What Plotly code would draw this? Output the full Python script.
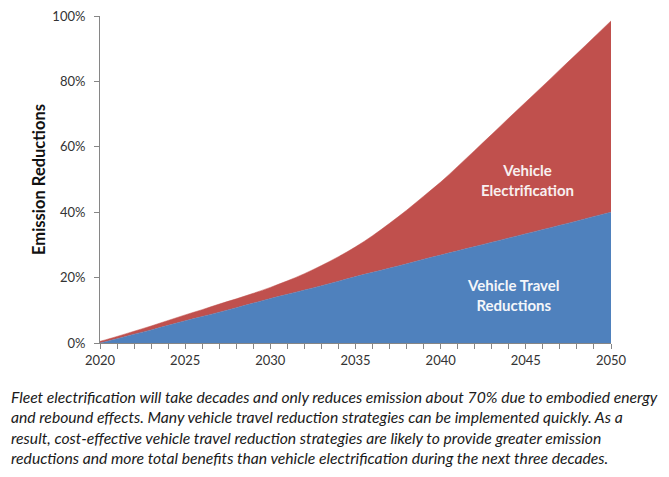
import plotly.graph_objects as go

# Years on the x axis
years = list(range(2020, 2051))

# Vehicle travel reduction share (blue area)
travel = [0.0, 1.3, 2.7, 4.0, 5.4, 6.8, 8.1, 9.4, 10.8, 12.2, 13.6,
          14.9, 16.2, 17.5, 18.9, 20.3, 21.6, 22.9, 24.2, 25.6, 26.9,
          28.2, 29.5, 30.8, 32.1, 33.4, 34.7, 36.0, 37.3, 38.7, 40.0]

# Total reductions incl. electrification (top of the red area)
total = [0.5, 2.0, 3.6, 5.2, 6.9, 8.6, 10.2, 11.9, 13.5, 15.2, 17.0,
         19.0, 21.2, 23.7, 26.4, 29.4, 32.8, 36.6, 40.6, 44.9, 49.2,
         54.0, 58.9, 63.8, 68.8, 73.7, 78.6, 83.6, 88.5, 93.5, 98.5]

y_ticks = [0, 20, 40, 60, 80, 100]
y_tick_labels = ["0%", "20%", "40%", "60%", "80%", "100%"]
x_ticks = [2020, 2025, 2030, 2035, 2040, 2045, 2050]

caption = ("Fleet electrification will take decades and only reduces emission about 70% due to embodied energy<br>"
           "and rebound effects. Many vehicle travel reduction strategies can be implemented quickly. As a<br>"
           "result, cost-effective vehicle travel reduction strategies are likely to provide greater emission<br>"
           "reductions and more total benefits than vehicle electrification during the next three decades.")

BLUE = "#4F81BD"
RED = "#C0504D"
FONT = "Lato"

fig = go.Figure()

fig.add_trace(go.Scatter(
    x=years, y=travel, mode="lines", fill="tozeroy",
    fillcolor=BLUE, line=dict(color=BLUE, width=0.5, shape="spline"),
    name="Vehicle Travel Reductions", hoverinfo="skip"
))

fig.add_trace(go.Scatter(
    x=years, y=total, mode="lines", fill="tonexty",
    fillcolor=RED, line=dict(color=RED, width=0.5, shape="spline"),
    name="Vehicle Electrification", hoverinfo="skip"
))

# labels inside the areas
fig.add_annotation(x=2045.1, y=49.8, text="<b>Vehicle<br>Electrification</b>",
                   showarrow=False, font=dict(family=FONT, size=15, color="#F8F0F0"))
fig.add_annotation(x=2044.3, y=14.8, text="<b>Vehicle Travel<br>Reductions</b>",
                   showarrow=False, font=dict(family=FONT, size=15, color="#F4F6FA"))

# caption under the chart
fig.add_annotation(xref="paper", yref="paper", x=-0.178, y=-0.13,
                   xanchor="left", yanchor="top", align="left",
                   text="<i>" + caption + "</i>", showarrow=False,
                   font=dict(family=FONT, size=15.7, color="#1a1a1a"))

# page body has an 8px margin, so the figure is made a bit smaller
fig.update_layout(
    width=661, height=469,
    margin=dict(l=92, r=58, t=8, b=134),
    paper_bgcolor="white", plot_bgcolor="white",
    showlegend=False,
    font=dict(family=FONT, color="#333333"),
)

fig.update_xaxes(
    range=[2020, 2050], tickvals=x_ticks,
    showgrid=False, zeroline=False, automargin=False,
    showline=True, linecolor="#868686", linewidth=1,
    ticks="outside", ticklen=5, tickcolor="#868686",
    minor=dict(dtick=1, ticks="outside", ticklen=5, tickcolor="#868686"),
    tickfont=dict(family=FONT, size=13, color="#333333"),
)

fig.update_yaxes(
    range=[0, 100], tickvals=y_ticks, ticktext=y_tick_labels,
    showgrid=False, zeroline=False, automargin=False,
    showline=True, linecolor="#868686", linewidth=1,
    ticks="outside", ticklen=5, tickcolor="#868686",
    ticklabelstandoff=6, ticklabeloverflow="allow",
    tickfont=dict(family=FONT, size=13, color="#333333"),
    title=dict(text="<b>Emission Reductions</b>", standoff=2,
               font=dict(family=FONT, size=16.5, color="#111111")),
)

fig.write_html("out.html")
